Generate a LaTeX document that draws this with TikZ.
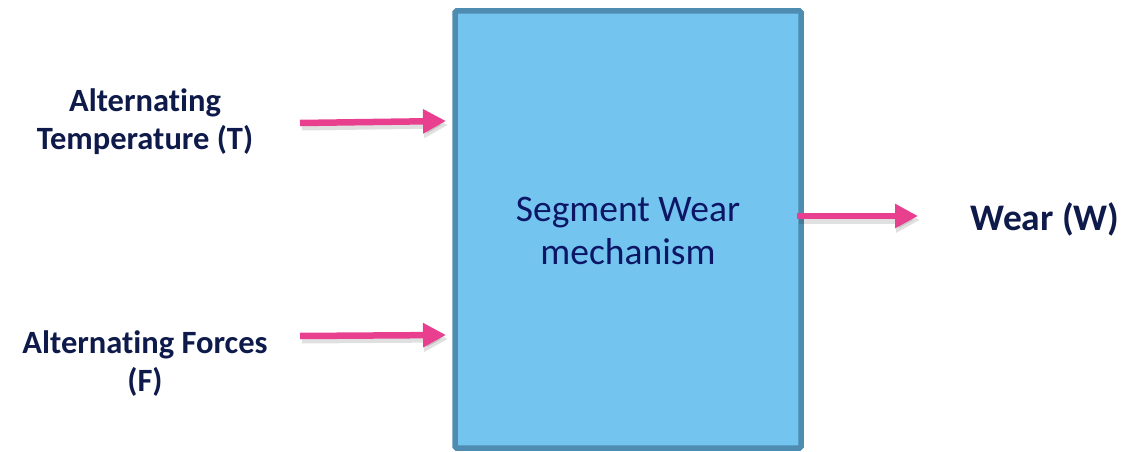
\documentclass[tikz,border=0pt]{standalone}
\usepackage{fontspec}
\setmainfont[Ligatures=NoCommon]{Carlito}
\usetikzlibrary{arrows.meta}
\definecolor{boxfill}{HTML}{73C4EF}
\definecolor{boxedge}{HTML}{4E8DB1}
\definecolor{flowpink}{HTML}{E8408F}
\definecolor{inktext}{HTML}{0E1A4A}
\tikzset{
  x=1pt, y=-1pt,
  mechbox/.style={draw=boxedge, fill=boxfill, line width=5.5pt, rounded corners=1.5pt},
  flow/.style={draw=flowpink, line width=6.5pt,
    -{Triangle[length=23pt,width=23pt]}, shorten >=0pt},
  flowshade/.style={draw=black, opacity=0.12, line width=7pt,
    -{Triangle[length=24pt,width=24pt]}},
  inlabel/.style={font=\bfseries\fontsize{32.5}{38}\selectfont, text=inktext, align=center},
}
\begin{document}
\begin{tikzpicture}
\useasboundingbox (0,0) rectangle (1146,452);
% mechanism block
\draw[mechbox] (455,11) rectangle (801,448);
\node[font=\fontsize{37.5}{43}\selectfont, text=inktext!85!blue, align=center]
  (mech) at (628,231) {Segment Wear\\mechanism};
% anchors on the block
\coordinate (inT) at (446,121);
\coordinate (inF) at (446,335);
\coordinate (outW) at (797,216);
% input and output labels
\node[inlabel] (tempT) at (145,122) {Alternating\\Temperature (T)};
\node[inlabel] (forceF) at (145,364) {Alternating Forces\\(F)};
\node[font=\bfseries\fontsize{37.5}{44}\selectfont, text=inktext] (wearW) at (1045,219) {Wear (W)};
\coordinate (tStart) at (300,123);
\coordinate (fStart) at (300,336);
\coordinate (wEnd) at (918,216);
% soft shadows under the arrows
\draw[flowshade] ([shift={(2,4)}]tStart) -- ([shift={(2,4)}]inT);
\draw[flowshade] ([shift={(2,4)}]fStart) -- ([shift={(2,4)}]inF);
\draw[flowshade] ([shift={(2,4)}]outW) -- ([shift={(2,4)}]wEnd);
% arrows
\draw[flow] (tStart) -- (inT);
\draw[flow] (fStart) -- (inF);
\draw[flow] (outW) -- (wEnd);
\end{tikzpicture}
\end{document}
